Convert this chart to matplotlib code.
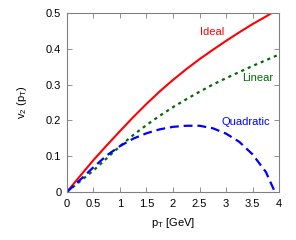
import matplotlib
matplotlib.use('Agg')
import matplotlib.pyplot as plt

plt.rcParams['font.family'] = ['Liberation Sans', 'DejaVu Sans']
plt.rcParams['mathtext.fontset'] = 'custom'
plt.rcParams['mathtext.rm'] = 'Liberation Sans'
plt.rcParams['mathtext.it'] = 'Liberation Sans'

# values
pt_ideal = [0, 0.25, 0.5, 0.75, 1.0, 1.25, 1.5, 1.75, 2.0, 2.25, 2.5, 2.75, 3.0, 3.25, 3.5, 3.75, 3.86]
v2_ideal = [0, 0.045, 0.089, 0.13, 0.17, 0.209, 0.246, 0.281, 0.313, 0.343, 0.371, 0.397, 0.422, 0.446, 0.469, 0.49, 0.5]

pt_linear = [0, 0.25, 0.5, 0.75, 1.0, 1.25, 1.5, 1.75, 2.0, 2.25, 2.5, 2.75, 3.0, 3.25, 3.5, 3.75, 4.0]
v2_linear = [0, 0.03, 0.06, 0.094, 0.128, 0.159, 0.187, 0.213, 0.237, 0.259, 0.28, 0.3, 0.318, 0.335, 0.352, 0.368, 0.384]

pt_quad = [0, 0.25, 0.5, 0.75, 1.0, 1.25, 1.5, 1.75, 2.0, 2.25, 2.5, 2.75, 3.0, 3.25, 3.5, 3.75, 3.92]
v2_quad = [0, 0.034, 0.069, 0.102, 0.128, 0.149, 0.164, 0.175, 0.182, 0.185, 0.185, 0.178, 0.163, 0.14, 0.105, 0.056, 0.0]

xticks = [0, 0.5, 1, 1.5, 2, 2.5, 3, 3.5, 4]
xticklabels = ['0', '0.5', '1', '1.5', '2', '2.5', '3', '3.5', '4']
yticks = [0, 0.1, 0.2, 0.3, 0.4, 0.5]
yticklabels = ['0', '0.1', '0.2', '0.3', '0.4', '0.5']

red = '#ff0000'
green = '#006a00'
blue = '#0000ff'

fig = plt.figure(figsize=(2.96, 2.4), dpi=100)
ax = fig.add_axes([0.226, 0.2, 0.717, 0.746])

ax.plot(pt_ideal, v2_ideal, color=red, lw=1.5, solid_capstyle='butt')
ax.plot(pt_linear, v2_linear, color=green, lw=1.6, linestyle=(0, (1.4, 1.8)))
ax.plot(pt_quad, v2_quad, color=blue, lw=1.6, linestyle=(0, (4, 2.2)))

ax.text(2.74, 0.448, 'Ideal', color=red, fontsize=8, ha='center', va='center')
ax.text(3.6, 0.318, 'Linear', color=green, fontsize=8, ha='center', va='center')
ax.text(3.37, 0.196, 'Quadratic', color=blue, fontsize=8, ha='center', va='center')

ax.set_xlim(0, 4)
ax.set_ylim(0, 0.5)
ax.set_xticks(xticks)
ax.set_xticklabels(xticklabels)
ax.set_yticks(yticks)
ax.set_yticklabels(yticklabels)
ax.tick_params(direction='in', top=True, right=True, length=3.5, width=0.6,
               color='#808080', labelsize=8)
ax.tick_params(axis='x', pad=5)
ax.tick_params(axis='y', pad=4)
for s in ax.spines.values():
    s.set_color('#808080')
    s.set_linewidth(0.8)

ax.set_xlabel(r'p$_\mathrm{T}$ [GeV]', fontsize=8, labelpad=5)
ax.set_ylabel(r'v$_2$ (p$_\mathrm{T}$)', fontsize=8, labelpad=12)

fig.savefig('out.png', dpi=100)
